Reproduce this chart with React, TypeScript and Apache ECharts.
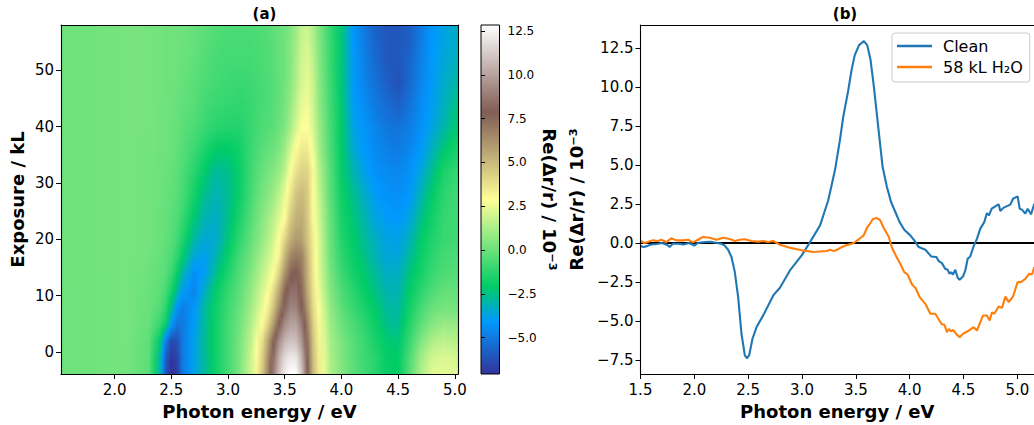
import React, { useEffect, useRef } from "react";
import * as echarts from "echarts";

const FONT = "DejaVu Sans";

// Panel (b): spectra, [photon energy, value]
const clean: number[][] = [
  [1.5,-0.2],[1.53,-0.25],[1.56,-0.2],[1.6,-0.1],[1.65,-0.06],[1.7,0],[1.75,-0.13],[1.77,-0.25],[1.8,-0.05],[1.85,-0.05],[1.9,-0.09],[1.95,0],[2.0,-0.17],[2.03,0],[2.1,0.06],[2.15,0.08],[2.2,0.02],[2.25,-0.05],[2.28,-0.15],
  [2.314,-0.43],[2.345,-0.9],[2.376,-1.86],[2.407,-3.47],[2.438,-5.82],[2.469,-7.21],[2.488,-7.39],[2.509,-7.21],[2.54,-6.14],[2.578,-5.39],[2.64,-4.64],[2.733,-3.36],[2.795,-2.87],[2.888,-1.76],[2.997,-0.79],[3.075,0.06],[3.168,1.13],[3.244,2.74],
  [3.306,4.66],[3.352,6.59],[3.383,8.09],[3.43,9.8],[3.46,11.08],[3.49,12.05],[3.53,12.69],[3.575,12.95],[3.606,12.69],[3.637,11.73],[3.668,10.01],[3.708,7.44],[3.749,4.87],[3.789,3.59],[3.827,2.63],[3.867,1.99],[3.907,1.34],[3.95,0.85],
  [4.006,0.49],[4.043,0.17],[4.084,-0.26],[4.146,-0.43],[4.2,-0.86],[4.248,-0.9],[4.27,-1.16],[4.3,-1.29],[4.33,-1.65],[4.353,-1.72],[4.37,-1.97],[4.384,-1.87],[4.402,-2.02],[4.424,-1.72],[4.446,-2.23],[4.464,-2.36],[4.495,-2.15],[4.517,-1.76],[4.539,-1.01],[4.563,-0.86],[4.594,-0.22],[4.625,0.27],[4.656,0.92],[4.693,1.34],[4.718,1.92],[4.737,1.77],[4.762,2.2],[4.811,2.42],[4.827,2.48],[4.842,2.05],[4.873,2.27],[4.935,2.46],[4.96,2.84],[5.003,2.99],[5.022,2.2],[5.043,2.14],[5.074,1.88],[5.096,2.2],[5.127,1.84],[5.158,2.52],
];
const water: number[][] = [
  [1.5,0.13],[1.537,0],[1.568,0.06],[1.615,0.17],[1.661,0.13],[1.693,0.21],[1.739,0.06],[1.786,0.3],[1.832,0.17],[1.894,0.17],[1.941,0.21],[1.988,0.04],[2.034,0.21],[2.081,0.39],[2.143,0.34],[2.205,0.21],[2.267,0.34],[2.329,0.26],[2.376,0.13],[2.422,0.21],[2.469,0.24],[2.531,0.13],[2.593,0.09],[2.64,0.13],[2.686,0.06],[2.733,0.13],[2.795,-0.11],[2.888,-0.3],[2.997,-0.47],[3.106,-0.58],[3.23,-0.51],
  [3.263,-0.43],[3.294,-0.52],[3.325,-0.43],[3.371,-0.26],[3.418,-0.13],[3.464,-0.05],[3.505,0.12],[3.542,0.32],[3.573,0.49],[3.604,0.98],[3.635,1.28],[3.659,1.54],[3.697,1.6],[3.727,1.45],[3.758,0.98],[3.805,0.42],[3.836,-0.3],[3.876,-0.86],[3.913,-1.33],[3.95,-1.87],[3.981,-2.02],[4.022,-2.66],[4.056,-2.9],[4.093,-3.47],[4.146,-3.9],[4.192,-4.54],[4.238,-4.54],[4.3,-5.23],[4.322,-5.23],[4.347,-5.72],[4.365,-5.51],[4.384,-5.66],[4.402,-5.57],[4.433,-5.83],[4.464,-6.04],[4.502,-5.79],[4.539,-5.66],[4.594,-5.4],[4.625,-5.61],[4.681,-4.65],[4.718,-4.65],[4.743,-4.97],[4.765,-4.44],[4.786,-4.54],[4.827,-4.07],[4.858,-4.16],[4.889,-3.43],[4.92,-3.79],[4.96,-3.43],[5.003,-2.51],[5.034,-2.51],[5.074,-2.3],[5.111,-1.97],[5.136,-2.02],[5.158,-1.55],
];
const zeroLine = [[1.5,0],[5.155,0]];

// Panel (a): map samples
const mapEnergies = [1.528,1.8,2.1,2.3,2.4,2.45,2.5,2.55,2.6,2.7,2.8,2.9,3.0,3.1,3.2,3.3,3.35,3.4,3.45,3.5,3.55,3.6,3.65,3.7,3.75,3.8,3.9,4.0,4.1,4.2,4.3,4.4,4.5,4.6,4.7,4.8,4.9,5.027];
const mapExposures = [-3.88,-1,2,5,8,11,14,17,20,24,28,32,36,40,44,48,52,55,58];
const mapValues: number[][] = [
  [0.05,0.1,0.2,-0.3,-3.0,-6.0,-7.3,-6.8,-5.0,-3.8,-2.8,-1.7,-0.8,0.3,1.9,4.5,6.5,8.8,10.9,12.3,12.9,12.85,11,8,5,3.5,1.4,0.5,-0.3,-0.85,-1.3,-2.0,-2.1,-0.4,1.3,2.3,2.4,2.2],
  [0.05,0.1,0.2,-0.3,-2.8,-5.8,-7.0,-6.6,-5.0,-3.8,-2.7,-1.7,-0.8,0.3,1.8,4.2,6.2,8.4,10.4,11.7,12.2,12.1,10.5,7.7,4.9,3.4,1.3,0.4,-0.3,-0.9,-1.4,-2.0,-2.1,-0.6,1.0,2.0,2.2,2.0],
  [0.05,0.1,0.2,-0.2,-2.2,-4.8,-6.4,-6.2,-5.0,-3.8,-2.7,-1.7,-0.8,0.2,1.6,3.8,5.6,7.6,9.4,10.6,11,10.9,9.6,7.3,4.7,3.3,1.2,0.3,-0.4,-1.0,-1.6,-2.2,-2.3,-1.0,0.4,1.3,1.6,1.4],
  [0.05,0.1,0.2,-0.1,-1.0,-1.9,-4.0,-5.2,-5.0,-4.0,-2.7,-1.7,-0.8,0.1,1.3,2.9,4.2,5.9,7.9,9.3,10,10,8.8,6.8,4.4,3.1,1,0,-0.6,-1.2,-1.9,-2.6,-2.7,-1.4,-0.3,0.5,0.9,0.8],
  [0.05,0.1,0.2,0,-0.5,-1.2,-2.6,-4.2,-4.9,-4.2,-2.8,-1.8,-0.9,-0.1,1.0,2.4,3.3,4.7,6.5,8.1,9.1,9.0,7.9,6,4,2.8,0.8,-0.3,-1,-1.6,-2.2,-2.8,-2.9,-1.8,-0.8,-0.1,0.2,0.2],
  [0.05,0.1,0.2,0,-0.3,-0.7,-1.6,-2.8,-3.9,-4.7,-3.2,-2.0,-1.1,-0.3,0.7,2.0,2.7,3.9,5.5,7.5,8.4,8.5,7.4,5.5,3.8,2.5,0.5,-0.6,-1.3,-2,-2.5,-3.1,-3.1,-2.1,-1.3,-0.6,-0.2,-0.1],
  [0.1,0.1,0.2,0.05,-0.2,-0.4,-1.0,-1.9,-3.0,-4.4,-3.9,-2.5,-1.5,-0.5,0.4,1.6,2.2,2.9,4.3,6.2,7.6,7.9,7.1,5.3,3.6,2.3,0.3,-0.9,-1.7,-2.2,-2.8,-3.3,-3.3,-2.4,-1.7,-1,-0.6,-0.4],
  [0.1,0.1,0.25,0.1,-0.1,-0.3,-0.6,-1.2,-2.1,-3.6,-3.9,-3,-1.9,-0.8,0.1,1.2,1.8,2.4,3.3,5.1,6.5,7,6.7,5.1,3.5,2.2,0.1,-1.2,-1.9,-2.5,-3.1,-3.6,-3.6,-2.8,-1.9,-1.3,-0.8,-0.6],
  [0.1,0.1,0.25,0.15,0,-0.2,-0.4,-0.8,-1.5,-2.9,-3.6,-3.4,-2.3,-1.2,-0.2,0.8,1.3,2,2.9,4.2,5.4,6,5.8,4.7,3.4,2.2,0,-1.4,-2.1,-2.7,-3.3,-3.7,-3.8,-3.2,-2.1,-1.5,-1,-0.8],
  [0.1,0.1,0.25,0.15,0,-0.1,-0.3,-0.5,-1,-2.2,-3.1,-3.3,-2.6,-1.6,-0.5,0.5,1,1.5,2.2,2.9,4.4,5.2,5.4,4.6,3,2,-0.1,-1.6,-2.3,-3,-3.7,-4,-4.1,-3.7,-2.6,-1.8,-1.1,-0.8],
  [0.1,0.1,0.25,0.15,0.05,-0.1,-0.2,-0.4,-0.7,-1.7,-2.7,-3.1,-2.7,-1.9,-0.8,0.2,0.5,1,1.6,2.5,3.7,4.7,5,4.5,2.9,1.8,-0.3,-1.8,-2.6,-3.3,-4,-4.3,-4.4,-4.1,-3.1,-2.1,-1.3,-0.8],
  [0.1,0.1,0.25,0.15,0.05,0,-0.1,-0.3,-0.6,-1.3,-2.2,-2.8,-2.6,-1.9,-0.9,-0.1,0.2,0.5,0.9,1.6,2.9,3.8,4.3,4.2,3.1,1.5,-0.4,-2,-3,-3.8,-4.3,-4.5,-4.6,-4.3,-3.6,-2.6,-1.6,-1],
  [0.1,0.1,0.25,0.15,0.1,0.05,0,-0.2,-0.4,-0.9,-1.6,-2.1,-2.1,-1.8,-1,-0.4,-0.2,0,0.4,1,2,3,3.6,3.5,2.5,1.2,-0.6,-2.1,-3.4,-4.1,-4.5,-4.8,-5,-4.6,-4.1,-3.2,-2.3,-1.6],
  [0.1,0.1,0.25,0.2,0.1,0.05,0,-0.1,-0.3,-0.6,-1,-1.3,-1.4,-1.4,-1,-0.6,-0.5,-0.3,0,0.4,1.1,2,2.8,2.9,2.1,1,-0.7,-2.1,-3.7,-4.2,-4.7,-5.1,-5.2,-4.9,-4.3,-3.7,-3,-2.1],
  [0.1,0.1,0.25,0.2,0.1,0.1,0.05,-0.05,-0.2,-0.4,-0.8,-1,-1.1,-1.2,-1,-0.7,-0.6,-0.4,-0.2,0.2,0.8,1.6,2.4,2.6,1.9,0.8,-0.8,-2.2,-3.9,-4.5,-5,-5.4,-5.8,-5.2,-4.5,-3.9,-3.3,-2.4],
  [0.1,0.1,0.25,0.2,0.15,0.1,0.1,0,-0.1,-0.3,-0.6,-0.8,-0.9,-1,-0.9,-0.7,-0.6,-0.4,-0.2,0.1,0.6,1.3,2.1,2.4,1.8,0.7,-0.9,-2.3,-4,-4.7,-5.3,-5.8,-6.2,-5.5,-4.7,-4,-3.4,-2.9],
  [0.1,0.1,0.25,0.2,0.15,0.1,0.1,0.05,0,-0.2,-0.5,-0.7,-0.8,-0.8,-0.8,-0.6,-0.55,-0.35,-0.15,0.1,0.5,1.2,1.9,2.2,1.6,0.6,-1,-2.3,-4,-4.8,-5.5,-6,-6,-5.6,-4.8,-4.1,-3.6,-3.2],
  [0.1,0.1,0.25,0.2,0.15,0.1,0.1,0.1,0,-0.1,-0.4,-0.6,-0.7,-0.7,-0.7,-0.6,-0.5,-0.3,-0.1,0.1,0.5,1.1,1.8,2,1.4,0.5,-1,-2.3,-4.1,-4.9,-5.6,-6,-6,-5.8,-4.9,-4.1,-3.7,-3.3],
  [0.1,0.1,0.25,0.2,0.15,0.1,0.1,0.1,0.05,-0.1,-0.3,-0.5,-0.6,-0.6,-0.6,-0.5,-0.45,-0.2,-0.05,0.1,0.4,1,1.7,1.9,1.3,0.45,-1.1,-2.3,-4.1,-5,-5.7,-6.1,-6.1,-5.8,-5,-4.2,-3.8,-3.3],
];

// Tick labels
const mapXTicks = [2.0,2.5,3.0,3.5,4.0,4.5,5.0];
const mapYTicks = [0,10,20,30,40,50];
const barTicks = [-5,-2.5,0,2.5,5,7.5,10,12.5];
const lineYTicks = [-7.5,-5,-2.5,0,2.5,5,7.5,10,12.5];

const colorMin = -7.08;
const colorMax = 12.85;
// matplotlib "terrain"
const terrain: [number, number[]][] = [
  [0,[51,51,153]],[0.15,[0,153,255]],[0.25,[0,204,102]],[0.5,[255,255,153]],[0.75,[128,92,84]],[1,[255,255,255]],
];

function colorOf(v: number) {
  const t = Math.max(0, Math.min(1, (v - colorMin) / (colorMax - colorMin)));
  for (let i = 1; i < terrain.length; i++) {
    if (t <= terrain[i][0]) {
      const [a, ca] = terrain[i - 1];
      const [b, cb] = terrain[i];
      const f = (t - a) / (b - a);
      return `rgb(${ca.map((c, k) => Math.round(c + (cb[k] - c) * f)).join(",")})`;
    }
  }
  return "rgb(255,255,255)";
}

const num1 = (v: number) => v.toFixed(1).replace("-", "\u2212");

const xMin = mapEnergies[0];
const xMax = mapEnergies[mapEnergies.length - 1];

function rowGradient(a: number[], b: number[], f: number) {
  const vals = a.map((v, i) => v + (b[i] - v) * f);
  const stops: { offset: number; color: string }[] = [];
  for (let i = 0; i < vals.length - 1; i++) {
    for (let s = 0; s < 2; s++) {
      const k = s / 2;
      const e = mapEnergies[i] + (mapEnergies[i + 1] - mapEnergies[i]) * k;
      stops.push({ offset: (e - xMin) / (xMax - xMin), color: colorOf(vals[i] + (vals[i + 1] - vals[i]) * k) });
    }
  }
  stops.push({ offset: 1, color: colorOf(vals[vals.length - 1]) });
  return new echarts.graphic.LinearGradient(0, 0, 1, 0, stops);
}

const renderMapRow = (_p: any, api: any) => {
  const j = api.value(4);
  const y0 = api.value(1);
  const y1 = api.value(3);
  const left = api.coord([xMin, y1]);
  const right = api.coord([xMax, y0]);
  const top = left[1];
  const bottom = right[1];
  const n = Math.max(1, Math.round((bottom - top) / 2));
  const h = (bottom - top) / n;
  const children: any[] = [];
  for (let s = 0; s < n; s++) {
    const f = (s + 0.5) / n;
    children.push({
      type: "rect",
      shape: { x: left[0], y: bottom - h * (s + 1) - 0.4, width: right[0] - left[0], height: h + 0.8 },
      style: { fill: rowGradient(mapValues[j], mapValues[j + 1], f) },
    });
  }
  return { type: "group", children };
};

const renderBar = (_p: any, api: any) => {
  const a = api.coord([api.value(0), api.value(1)]);
  const b = api.coord([api.value(2), api.value(3)]);
  return {
    type: "rect",
    shape: { x: a[0], y: b[1], width: b[0] - a[0], height: a[1] - b[1] },
    style: {
      fill: new echarts.graphic.LinearGradient(
        0, 1, 0, 0,
        terrain.map(([offset, c]) => ({ offset, color: `rgb(${c.join(",")})` }))
      ),
      stroke: "#000",
      lineWidth: 1,
    },
  };
};

const tickText = (size: number) => ({ color: "#000", fontFamily: FONT, fontSize: size });
const nameStyle = { color: "#000", fontFamily: FONT, fontSize: 18, fontWeight: "bold" as const };
const line = { show: true, onZero: false, lineStyle: { color: "#000", width: 1.1 } };
const tick = { show: true, length: 5, lineStyle: { color: "#000", width: 1 } };

const frameX = (gridIndex: number, min: number, max: number) => ({
  type: "value", gridIndex, position: "top", min, max, z: 10, splitLine: { show: false },
  axisLine: line, axisTick: { show: false }, axisLabel: { show: false },
});
const frameY = (gridIndex: number, min: number, max: number) => ({
  type: "value", gridIndex, position: "right", min, max, z: 10, splitLine: { show: false },
  axisLine: line, axisTick: { show: false }, axisLabel: { show: false },
});

export default function App() {
  const ref = useRef<HTMLDivElement>(null);
  useEffect(() => {
    document.body.style.margin = "0";
    const chart = echarts.init(ref.current!, null, { renderer: "svg" });
    chart.setOption({
      animation: false,
      backgroundColor: "#fff",
      textStyle: { fontFamily: FONT },
      title: [
        { text: "(a)", left: 259.5, top: 1, textAlign: "center", textStyle: { fontFamily: FONT, fontSize: 15, fontWeight: "bold", color: "#000" } },
        { text: "(b)", left: 840, top: 1, textAlign: "center", textStyle: { fontFamily: FONT, fontSize: 15, fontWeight: "bold", color: "#000" } },
      ],
      grid: [
        { left: 61, top: 25, width: 397, height: 349 },
        { left: 481, top: 25, width: 18.5, height: 349 },
        { left: 640.5, top: 25, width: 393.5, height: 349 },
      ],
      legend: {
        left: 892, top: 33, orient: "vertical", padding: [5, 7, 7, 5], itemGap: 5,
        itemWidth: 35, itemHeight: 2.5, icon: "rect",
        backgroundColor: "#fff", borderColor: "#ccc", borderWidth: 1, borderRadius: 3,
        textStyle: { fontFamily: FONT, fontSize: 16, color: "#000", padding: [0, 0, 0, 6] },
        data: ["Clean", "58 kL H\u2082O"],
      },
      xAxis: [
        {
          type: "value", gridIndex: 0, position: "bottom", min: xMin, max: xMax, z: 10, splitLine: { show: false },
          axisLine: line, axisTick: { ...tick, customValues: mapXTicks },
          axisLabel: { ...tickText(15), customValues: mapXTicks, formatter: num1, margin: 8, hideOverlap: false, showMinLabel: true, showMaxLabel: true },
          name: "Photon energy / eV", nameLocation: "middle", nameGap: 28, nameTextStyle: nameStyle,
        },
        frameX(0, xMin, xMax),
        { type: "value", gridIndex: 1, min: 0, max: 1, show: false },
        {
          type: "value", gridIndex: 2, position: "bottom", min: 1.5, max: 5.155, interval: 0.5, z: 10, splitLine: { show: false },
          axisLine: line, axisTick: tick,
          axisLabel: { ...tickText(15), formatter: num1, margin: 8, showMinLabel: true, showMaxLabel: false },
          name: "Photon energy / eV", nameLocation: "middle", nameGap: 28, nameTextStyle: nameStyle,
        },
        frameX(2, 1.5, 5.155),
      ],
      yAxis: [
        {
          type: "value", gridIndex: 0, position: "left", min: -3.88, max: 58, z: 10, splitLine: { show: false },
          axisLine: line, axisTick: { ...tick, customValues: mapYTicks },
          axisLabel: { ...tickText(15), customValues: mapYTicks, formatter: (v: number) => String(v), margin: 7 },
          name: "Exposure / kL", nameLocation: "middle", nameGap: 35, nameRotate: 90, nameTextStyle: nameStyle,
        },
        frameY(0, -3.88, 58),
        {
          type: "value", gridIndex: 1, position: "right", min: colorMin, max: colorMax, z: 10, splitLine: { show: false },
          axisLine: { show: false }, axisTick: { show: true, length: 4, lineStyle: { color: "#000", width: 1 }, customValues: barTicks },
          axisLabel: { ...tickText(12), customValues: barTicks, formatter: num1, margin: 8 },
          name: "Re(\u0394r/r) / 10\u207B\u00B3", nameLocation: "middle", nameGap: 37, nameRotate: -90, nameTextStyle: nameStyle,
        },
        {
          type: "value", gridIndex: 2, position: "left", min: -8.4, max: 13.98, z: 10, splitLine: { show: false },
          axisLine: line, axisTick: { ...tick, customValues: lineYTicks },
          axisLabel: { ...tickText(15), customValues: lineYTicks, formatter: num1, margin: 7 },
          name: "Re(\u0394r/r) / 10\u207B\u00B3", nameLocation: "middle", nameGap: 55, nameRotate: 90, nameTextStyle: nameStyle,
        },
      ],
      series: [
        {
          type: "custom", name: "map", xAxisIndex: 0, yAxisIndex: 0, renderItem: renderMapRow, clip: true, silent: true,
          encode: { x: [0, 2], y: [1, 3] },
          data: mapExposures.slice(0, -1).map((y, j) => [xMin, y, xMax, mapExposures[j + 1], j]),
        },
        {
          type: "custom", name: "colorbar", xAxisIndex: 2, yAxisIndex: 2, renderItem: renderBar, clip: false, silent: true,
          encode: { x: [0, 2], y: [1, 3] },
          data: [[0, colorMin, 1, colorMax]],
        },
        {
          type: "line", name: "zero", xAxisIndex: 3, yAxisIndex: 3, data: zeroLine, showSymbol: false, silent: true,
          lineStyle: { color: "#000", width: 2 }, itemStyle: { color: "#000" },
        },
        {
          type: "line", name: "Clean", xAxisIndex: 3, yAxisIndex: 3, data: clean, showSymbol: false,
          lineStyle: { color: "#1f77b4", width: 2.1 }, itemStyle: { color: "#1f77b4" },
        },
        {
          type: "line", name: "58 kL H\u2082O", xAxisIndex: 3, yAxisIndex: 3, data: water, showSymbol: false,
          lineStyle: { color: "#ff7f0e", width: 2.1 }, itemStyle: { color: "#ff7f0e" },
        },
      ],
    });
    return () => chart.dispose();
  }, []);
  return <div ref={ref} style={{ width: 1034, height: 425, overflow: "hidden" }} />;
}
